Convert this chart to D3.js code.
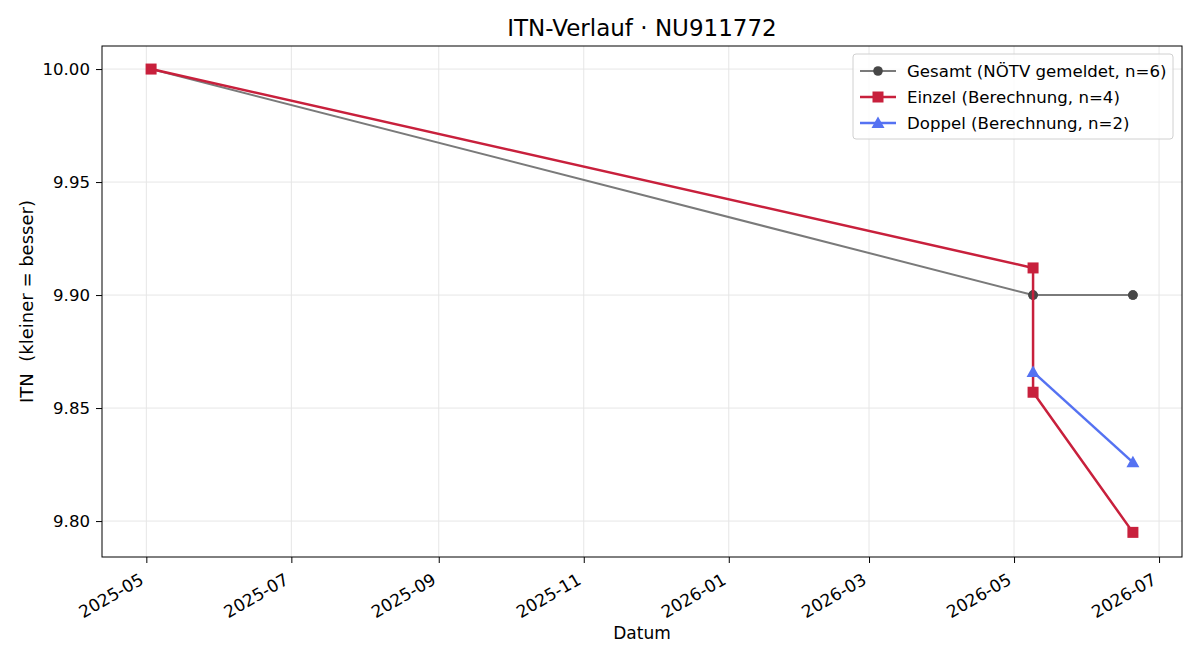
<!DOCTYPE html>
<html>
<head>
<meta charset="utf-8">
<script src="https://cdn.jsdelivr.net/npm/d3@7"></script>
<style>
body { margin: 0; background: #fff; }
text { font-family: "DejaVu Sans", sans-serif; white-space: pre; }
</style>
</head>
<body>
<div id="chart"></div>
<script>
var width = 1200;
var height = 660;
var margin = {top: 46, right: 18, bottom: 103, left: 102};

// data
var gesamtDates = ["2025-05-03", "2025-05-03", "2026-05-09", "2026-05-09", "2026-06-20", "2026-06-20"];
var gesamtValues = [10.00, 10.00, 9.90, 9.90, 9.90, 9.90];
var einzelDates = ["2025-05-03", "2026-05-09", "2026-05-09", "2026-06-20"];
var einzelValues = [10.00, 9.912, 9.857, 9.795];
var doppelDates = ["2026-05-09", "2026-06-20"];
var doppelValues = [9.866, 9.826];
var yTicks = [9.80, 9.85, 9.90, 9.95, 10.00];
var legendLabels = ["Gesamt (NÖTV gemeldet, n=6)", "Einzel (Berechnung, n=4)", "Doppel (Berechnung, n=2)"];

var fontSize = "16.6px";
var parseDate = d3.timeParse("%Y-%m-%d");

function makeSeries(dates, values)
{
	return dates.map(function (d, i) { return {date: parseDate(d), value: values[i]}; });
}

var series = [
	{name: legendLabels[0], data: makeSeries(gesamtDates, gesamtValues), line: "#7a7a7a", marker: "#474747", lineWidth: 2, shape: "circle"},
	{name: legendLabels[1], data: makeSeries(einzelDates, einzelValues), line: "#c8203c", marker: "#c8203c", lineWidth: 2.5, shape: "square"},
	{name: legendLabels[2], data: makeSeries(doppelDates, doppelValues), line: "#5572f2", marker: "#5572f2", lineWidth: 2.5, shape: "triangle"}
];

var svg = d3.select("#chart").append("svg")
	.attr("width", width)
	.attr("height", height);

var plotW = width - margin.left - margin.right;
var plotH = height - margin.top - margin.bottom;

// x domain with 5% padding like matplotlib
var allDates = series[0].data.concat(series[1].data, series[2].data).map(function (d) { return d.date; });
var xMin = d3.min(allDates), xMax = d3.max(allDates);
var pad = (xMax - xMin) * 0.05;
var x = d3.scaleTime()
	.domain([new Date(+xMin - pad), new Date(+xMax + pad)])
	.range([0, plotW]);

var y = d3.scaleLinear()
	.domain([9.7841, 10.0102])
	.range([plotH, 0]);

var g = svg.append("g")
	.attr("transform", "translate(" + margin.left + "," + margin.top + ")");

var xTicks = d3.timeMonth.every(2).range(new Date(2025, 4, 1), new Date(2026, 7, 1));

// grid
g.append("g").selectAll("line")
	.data(xTicks)
	.enter().append("line")
	.attr("x1", function (d) { return x(d); })
	.attr("x2", function (d) { return x(d); })
	.attr("y1", 0)
	.attr("y2", plotH)
	.attr("stroke", "#e6e6e6")
	.attr("stroke-width", 1);

g.append("g").selectAll("line")
	.data(yTicks)
	.enter().append("line")
	.attr("x1", 0)
	.attr("x2", plotW)
	.attr("y1", function (d) { return y(d); })
	.attr("y2", function (d) { return y(d); })
	.attr("stroke", "#e6e6e6")
	.attr("stroke-width", 1);

// axes
var xAxis = g.append("g")
	.attr("transform", "translate(0," + plotH + ")")
	.call(d3.axisBottom(x).tickValues(xTicks).tickFormat(d3.timeFormat("%Y-%m")).tickSizeOuter(0).tickSize(6));
xAxis.selectAll("text")
	.attr("font-size", "17px")
	.attr("fill", "#000")
	.attr("text-anchor", "end")
	.attr("x", 0)
	.attr("y", 0)
	.attr("dy", "0")
	.attr("transform", "translate(-2,26) rotate(-30)");
xAxis.select(".domain").remove();
xAxis.selectAll("line").attr("stroke", "#000");

var yAxis = g.append("g")
	.call(d3.axisLeft(y).tickValues(yTicks).tickFormat(d3.format(".2f")).tickSizeOuter(0).tickSize(6));
yAxis.selectAll("text")
	.attr("font-size", fontSize)
	.attr("fill", "#000")
	.attr("x", -12);
yAxis.select(".domain").remove();
yAxis.selectAll("line").attr("stroke", "#000");

g.append("rect")
	.attr("width", plotW)
	.attr("height", plotH)
	.attr("fill", "none")
	.attr("stroke", "#000")
	.attr("stroke-width", 1);

// lines and markers
var line = d3.line()
	.x(function (d) { return x(d.date); })
	.y(function (d) { return y(d.value); });

function drawMarker(sel, shape, color)
{
	if (shape === "circle")
	{
		sel.append("circle").attr("r", 4.8).attr("fill", color);
	}
	else if (shape === "square")
	{
		sel.append("rect").attr("x", -5.5).attr("y", -5.5).attr("width", 11).attr("height", 11).attr("fill", color);
	}
	else
	{
		sel.append("path").attr("d", "M0,-6.5L6.5,5L-6.5,5Z").attr("fill", color);
	}
}

series.forEach(function (s)
{
	g.append("path")
		.datum(s.data)
		.attr("d", line)
		.attr("fill", "none")
		.attr("stroke", s.line)
		.attr("stroke-width", s.lineWidth)
		.attr("stroke-linejoin", "round");
	g.append("g").selectAll("g")
		.data(s.data)
		.enter().append("g")
		.attr("transform", function (d) { return "translate(" + x(d.date) + "," + y(d.value) + ")"; })
		.each(function () { drawMarker(d3.select(this), s.shape, s.marker); });
});

// title and labels
svg.append("text")
	.attr("x", margin.left + plotW / 2)
	.attr("y", 36)
	.attr("text-anchor", "middle")
	.attr("font-size", "23px")
	.text("ITN-Verlauf · NU911772");

svg.append("text")
	.attr("x", margin.left + plotW / 2)
	.attr("y", 639)
	.attr("text-anchor", "middle")
	.attr("font-size", "17px")
	.text("Datum");

svg.append("text")
	.attr("transform", "translate(33," + (margin.top + plotH / 2) + ") rotate(-90)")
	.attr("text-anchor", "middle")
	.attr("font-size", "18px")
	.text("ITN  (kleiner = besser)");

// legend
var legend = svg.append("g").attr("transform", "translate(853,54)");
legend.append("rect")
	.attr("width", 320)
	.attr("height", 85)
	.attr("rx", 3)
	.attr("fill", "#fff")
	.attr("fill-opacity", 0.8)
	.attr("stroke", "#d0d0d0");

series.forEach(function (s, i)
{
	var row = legend.append("g").attr("transform", "translate(0," + (17 + i * 26) + ")");
	row.append("line")
		.attr("x1", 7).attr("x2", 43)
		.attr("stroke", s.line)
		.attr("stroke-width", s.lineWidth);
	var m = row.append("g").attr("transform", "translate(25,0)");
	drawMarker(m, s.shape, s.marker);
	row.append("text")
		.attr("x", 54)
		.attr("y", 6)
		.attr("font-size", fontSize)
		.text(s.name);
});
</script>
</body>
</html>
